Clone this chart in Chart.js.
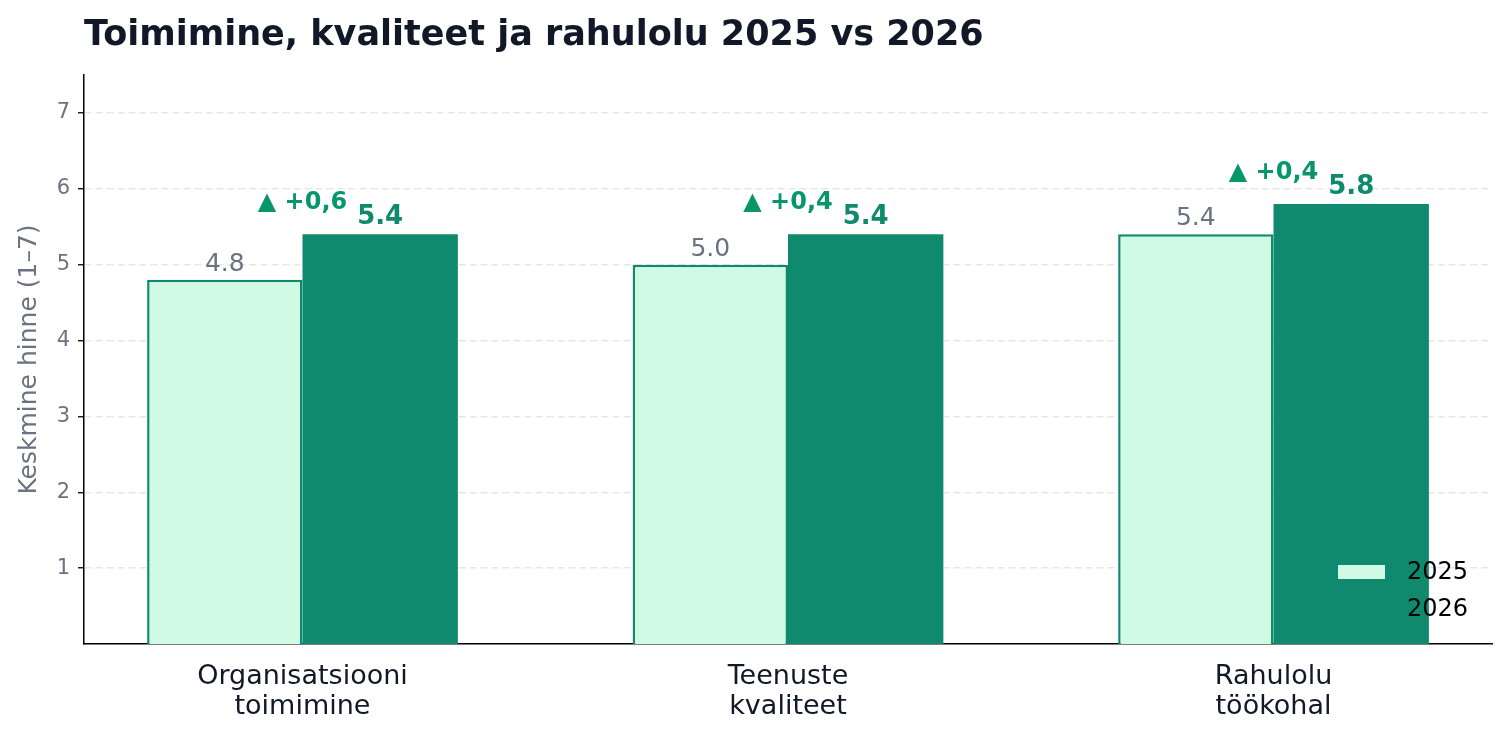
<!DOCTYPE html>
<html>
<head>
<meta charset="utf-8">
<script src="https://cdn.jsdelivr.net/npm/chart.js@4/dist/chart.umd.min.js"></script>
<style>
html,body{margin:0;padding:0;background:#fff;}
#wrap{width:1510px;height:740px;}
</style>
</head>
<body>
<div id="wrap"><canvas id="c" width="1510" height="740"></canvas></div>
<script>
const categories = [["Organisatsiooni","toimimine"],["Teenuste","kvaliteet"],["Rahulolu","töökohal"]];
const values2025 = [4.8, 5.0, 5.4];
const values2026 = [5.4, 5.4, 5.8];
const seriesNames = ["2025", "2026"];
const yTicks = [1,2,3,4,5,6,7];
const titleText = "Toimimine, kvaliteet ja rahulolu 2025 vs 2026";
const yTitle = "Keskmine hinne (1–7)";

const FONT = "'DejaVu Sans', sans-serif";
const DARK = "#0f8a6e";
const LIGHT = "#d1fae5";
const DELTA = "#059669";
const GREY = "#6b7280";
const INK = "#111827";

const toPts = arr => arr.map((v,i)=>({x:i,y:v}));

const labelsPlugin = {
  id:'labels',
  afterDatasetsDraw(chart){
    const ctx = chart.ctx;
    const m0 = chart.getDatasetMeta(0), m1 = chart.getDatasetMeta(1);
    const xs = chart.scales.x, ys = chart.scales.y;
    ctx.save();
    ctx.textAlign='center';
    ctx.textBaseline='alphabetic';
    m0.data.forEach((bar,i)=>{
      ctx.font = "25px " + FONT; ctx.fillStyle = GREY;
      ctx.fillText(values2025[i].toFixed(1), bar.x, bar.y - 9);
    });
    m1.data.forEach((bar,i)=>{
      ctx.font = "bold 26px " + FONT; ctx.fillStyle = DARK;
      ctx.fillText(values2026[i].toFixed(1), bar.x, bar.y - 10);
    });
    categories.forEach((c,i)=>{
      const d = values2026[i]-values2025[i];
      const txt = (d>=0?"▲ +":"▼ ") + d.toFixed(1).replace('.',',');
      const top = ys.getPixelForValue(Math.max(values2025[i],values2026[i]));
      ctx.font = "bold 24px " + FONT; ctx.fillStyle = DELTA;
      ctx.fillText(txt, xs.getPixelForValue(i), top - 25);
    });
    ctx.restore();
  },
  afterDraw(chart){
    const ctx = chart.ctx;
    ctx.save();
    // title
    ctx.font = "bold 35px " + FONT; ctx.fillStyle = INK;
    ctx.textAlign='left'; ctx.textBaseline='alphabetic';
    ctx.fillText(titleText, 84, 45);
    // y title
    ctx.translate(29, (chart.chartArea.top+chart.chartArea.bottom)/2);
    ctx.rotate(-Math.PI/2);
    ctx.font = "25px " + FONT; ctx.fillStyle = GREY;
    ctx.textAlign='center'; ctx.textBaseline='middle';
    ctx.fillText(yTitle, 0, 0);
    ctx.restore();
    // legend
    ctx.save();
    const items = [{t:seriesNames[0], fill:LIGHT},{t:seriesNames[1], fill:DARK}];
    items.forEach((it,k)=>{
      const y = 572 + k*37;
      ctx.fillStyle = it.fill;
      ctx.fillRect(1338, y-7, 47, 14);
      ctx.font = "24px " + FONT; ctx.fillStyle = "#000";
      ctx.textAlign='left'; ctx.textBaseline='middle';
      ctx.fillText(it.t, 1407, y+1);
    });
    ctx.restore();
  }
};

new Chart(document.getElementById('c'), {
  type:'bar',
  data:{
    datasets:[
      {label:seriesNames[0], data:toPts(values2025), backgroundColor:LIGHT, borderColor:DARK, borderWidth:2.5, borderSkipped:'bottom'},
      {label:seriesNames[1], data:toPts(values2026), backgroundColor:DARK, borderColor:DARK, borderWidth:0}
    ]
  },
  options:{
    responsive:false,
    animation:false,
    layout:{padding:{top:75,right:18,left:0,bottom:0}},
    datasets:{bar:{categoryPercentage:0.64, barPercentage:1.0}},
    plugins:{legend:{display:false}, title:{display:false}, tooltip:{enabled:false}},
    scales:{
      x:{
        type:'linear', min:-0.45, max:2.45, offset:false, bounds:'data',
        afterBuildTicks(s){ s.ticks = categories.map((c,i)=>({value:i})); },
        afterFit(s){ s.height = 96; },
        grid:{display:false, offset:false},
        border:{display:true, color:'#000', width:1.5},
        ticks:{
          callback:(v)=>categories[v],
          font:{family:FONT, size:27, lineHeight:1.12}, color:INK, padding:10, maxRotation:0, autoSkip:false
        }
      },
      y:{
        min:0, max:7.5,
        afterBuildTicks(s){ s.ticks = yTicks.map(v=>({value:v})); },
        afterFit(s){ s.width = 84; },
        grid:{color:'#e5e7eb', lineWidth:1.5, tickColor:'#000', tickLength:6, tickWidth:1.3},
        border:{display:true, color:'#000', width:1.5, dash:[7,4]},
        ticks:{font:{family:FONT, size:21}, color:GREY, padding:8}
      }
    }
  },
  plugins:[labelsPlugin]
});
</script>
</body>
</html>
